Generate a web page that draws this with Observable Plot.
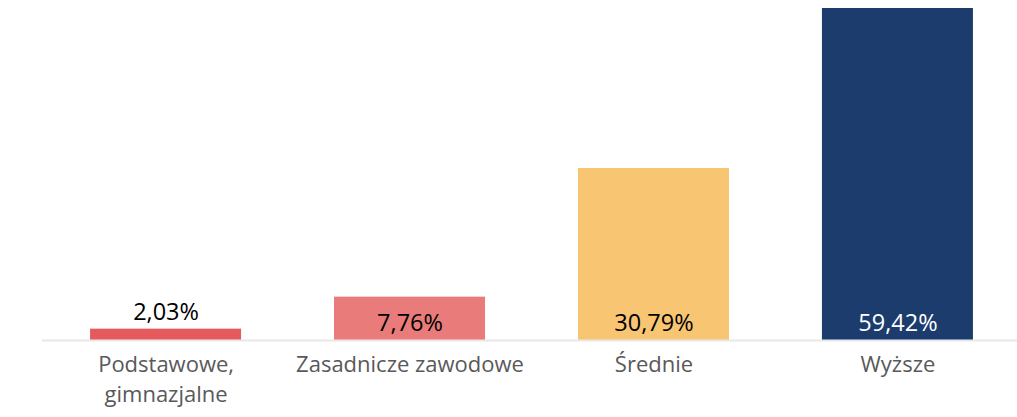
<!DOCTYPE html>
<html>
<head>
<meta charset="utf-8">
<script src="https://cdn.jsdelivr.net/npm/d3@7"></script>
<script src="https://cdn.jsdelivr.net/npm/@observablehq/plot@0.6"></script>
<style>
  html, body { margin: 0; padding: 0; background: #fff; }
  #chart svg { display: block; }
</style>
</head>
<body>
<div id="chart"></div>
<script>
const categories = ["Podstawowe,\ngimnazjalne", "Zasadnicze zawodowe", "Średnie", "Wyższe"];
const values = [2.03, 7.76, 30.79, 59.42];
const labels = ["2,03%", "7,76%", "30,79%", "59,42%"];
const colors = ["#e45a5d", "#e97c7b", "#f8c572", "#1c3c6e"];
const labelColors = ["#000000", "#000000", "#000000", "#ffffff"];

const data = categories.map((c, i) => ({
  category: c, value: values[i], label: labels[i], color: colors[i], labelColor: labelColors[i]
}));

const chart = Plot.plot({
  width: 1017,
  height: 417,
  marginTop: 8,
  marginBottom: 77,
  marginLeft: 42,
  marginRight: 0,
  style: { fontFamily: "'Open Sans', sans-serif", background: "#fff" },
  x: { domain: categories, range: [42, 1021], paddingInner: 0.381, paddingOuter: 0.197, round: false, axis: null },
  y: { domain: [0, 59.42], axis: null },
  marks: [
    Plot.barY(data, { x: "category", y: "value", fill: d => d.color }),
    Plot.ruleY([0], { stroke: "#e8e8e8", strokeWidth: 2 }),
    Plot.text(data, {
      x: "category",
      y: d => d.value < 5 ? d.value : 0,
      text: "label",
      fill: d => d.labelColor,
      fontSize: 23.5,
      lineAnchor: "middle",
      dy: -17
    }),
    Plot.text(data, {
      x: "category",
      y: 0,
      text: "category",
      fill: "#595959",
      fontSize: 22,
      lineAnchor: "top",
      lineHeight: 1.364,
      dy: 10
    })
  ]
});
document.getElementById("chart").append(chart);
</script>
</body>
</html>
